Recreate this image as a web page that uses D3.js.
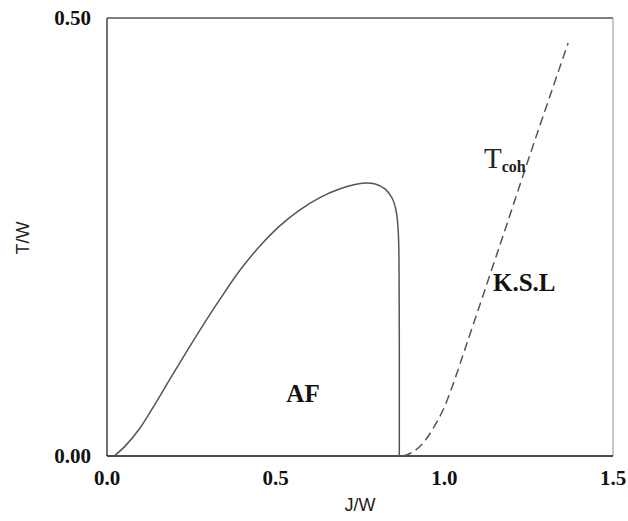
<!DOCTYPE html>
<html>
<head>
<meta charset="utf-8">
<script src="https://cdn.jsdelivr.net/npm/d3@7"></script>
<style>
  html, body { margin: 0; padding: 0; background: #fff; }
  svg { display: block; }
  .tick-label { font-family: "Liberation Serif", "Times New Roman", serif; font-weight: bold; font-size: 21px; fill: #111; }
  .axis-title { font-family: "Liberation Sans", Arial, sans-serif; font-size: 18px; fill: #222; }
  .region { font-family: "Liberation Serif", "Times New Roman", serif; font-weight: bold; font-size: 25px; fill: #111; }
</style>
</head>
<body>
<svg id="chart" width="628" height="521"></svg>
<script>
// Antiferromagnetic phase boundary T_N(J/W)
const afJ = [0.021, 0.053, 0.098, 0.142, 0.187, 0.231, 0.276, 0.335, 0.394, 0.454, 0.513, 0.572, 0.631, 0.691, 0.735, 0.765, 0.795, 0.824, 0.845, 0.857, 0.863, 0.8656, 0.8665, 0.8665];
const afT = [0.000, 0.011, 0.032, 0.059, 0.088, 0.116, 0.144, 0.179, 0.212, 0.240, 0.263, 0.281, 0.295, 0.305, 0.310, 0.3116, 0.3105, 0.305, 0.2945, 0.280, 0.259, 0.223, 0.120, 0.000];

// Coherence temperature T_coh(J/W), Kondo singlet liquid side
const cohJ = [0.8775, 0.907, 0.937, 0.966, 0.996, 1.026, 1.055, 1.076, 1.165, 1.254, 1.367];
const cohT = [0.000, 0.0046, 0.0148, 0.031, 0.0525, 0.082, 0.115, 0.139, 0.241, 0.344, 0.4715];

const xTicks = [0.0, 0.5, 1.0, 1.5];
const xTickLabels = ["0.0", "0.5", "1.0", "1.5"];
const yTicks = [0.0, 0.5];
const yTickLabels = ["0.00", "0.50"];

const svg = d3.select("#chart");
const plotL = 107, plotR = 613, plotT = 18, plotB = 456;

const x = d3.scaleLinear().domain([0, 1.5]).range([plotL, plotR]);
const y = d3.scaleLinear().domain([0, 0.5]).range([plotB, plotT]);

// Frame
svg.append("line").attr("x1", plotL).attr("x2", plotR).attr("y1", plotT).attr("y2", plotT)
  .attr("stroke", "#555").attr("stroke-width", 1.3);
svg.append("line").attr("x1", plotR).attr("x2", plotR).attr("y1", plotT).attr("y2", plotB)
  .attr("stroke", "#aaa").attr("stroke-width", 1.3);
svg.append("line").attr("x1", plotL).attr("x2", plotL).attr("y1", plotT).attr("y2", plotB)
  .attr("stroke", "#444").attr("stroke-width", 1.5);
svg.append("line").attr("x1", plotL).attr("x2", plotR).attr("y1", plotB).attr("y2", plotB)
  .attr("stroke", "#111").attr("stroke-width", 1.6);

// Tick labels
svg.selectAll(".xt").data(xTicks).enter().append("text")
  .attr("class", "tick-label")
  .attr("x", d => x(d)).attr("y", 485)
  .attr("text-anchor", "middle")
  .text((d, i) => xTickLabels[i]);

svg.selectAll(".yt").data(yTicks).enter().append("text")
  .attr("class", "tick-label")
  .attr("x", 91).attr("y", d => y(d) + 7)
  .attr("text-anchor", "end")
  .text((d, i) => yTickLabels[i]);

// Axis titles
svg.append("text").attr("class", "axis-title")
  .attr("x", 360).attr("y", 511).attr("text-anchor", "middle").text("J/W");
svg.append("text").attr("class", "axis-title")
  .attr("transform", "translate(29,238) rotate(-90)")
  .attr("text-anchor", "middle").text("T/W");

// Curves
const line = d3.line().x(d => x(d[0])).y(d => y(d[1])).curve(d3.curveCatmullRom.alpha(0.5));

svg.append("path")
  .attr("d", line(d3.zip(afJ, afT)))
  .attr("fill", "none").attr("stroke", "#555").attr("stroke-width", 1.5);

svg.append("path")
  .attr("d", line(d3.zip(cohJ, cohT)))
  .attr("fill", "none").attr("stroke", "#555").attr("stroke-width", 1.5)
  .attr("stroke-dasharray", "9,5");

// Region labels
svg.append("text").attr("class", "region")
  .attr("x", 303).attr("y", 402).attr("text-anchor", "middle").text("AF");
svg.append("text").attr("class", "region")
  .attr("x", 493).attr("y", 291).text("K.S.L");

const tcoh = svg.append("text")
  .attr("x", 484).attr("y", 168)
  .attr("font-family", "Liberation Serif, Times New Roman, serif")
  .attr("fill", "#222");
tcoh.append("tspan").attr("font-size", "29px").text("T");
tcoh.append("tspan").attr("font-size", "16px").attr("font-weight", "bold").attr("dy", 4).text("coh");
</script>
</body>
</html>
